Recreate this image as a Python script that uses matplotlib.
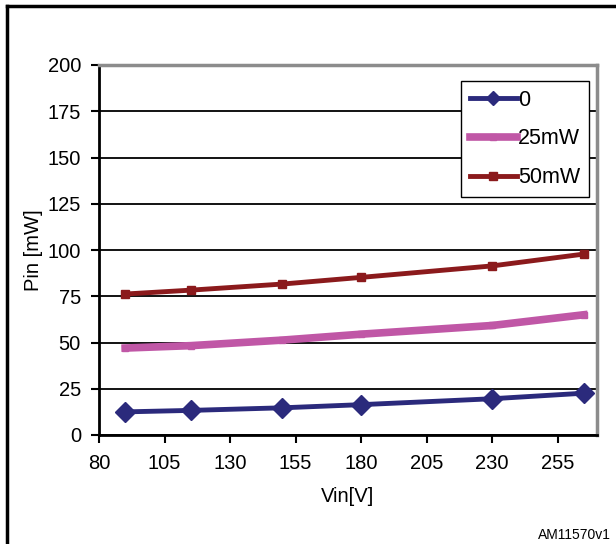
import matplotlib
matplotlib.use("Agg")
import matplotlib.pyplot as plt
from matplotlib.lines import Line2D

plt.rcParams['font.family'] = ['Liberation Sans', 'DejaVu Sans']

# Data
vin = [90, 115, 150, 180, 230, 265]
pin_0 = [12.5, 13.3, 14.7, 16.4, 19.6, 22.6]
pin_25 = [47.0, 48.3, 51.3, 54.5, 59.2, 65.0]
pin_50 = [76.2, 78.3, 81.6, 85.2, 91.4, 97.8]
series_labels = ["0", "25mW", "50mW"]
x_ticks = [80, 105, 130, 155, 180, 205, 230, 255]
y_ticks = [0, 25, 50, 75, 100, 125, 150, 175, 200]

fig = plt.figure(figsize=(6.16, 5.44), dpi=100)
ax = fig.add_axes([99 / 616, 1 - 435 / 544, (597 - 99) / 616, (435 - 65) / 544])

blue = "#2b2a7c"
pink = "#c057a6"
red = "#8b1a1c"
fs = 14.5

ax.plot(vin, pin_50, color=red, lw=3.5, marker="s", ms=6, zorder=3)
ax.plot(vin, pin_25, color=pink, lw=5.5, marker="s", ms=5, zorder=3)
ax.plot(vin, pin_0, color=blue, lw=3.5, marker="D", ms=10, zorder=3)

ax.set_xlim(80, 270)
ax.set_ylim(0, 200)
ax.set_xticks(x_ticks)
ax.set_yticks(y_ticks)
ax.yaxis.grid(True, color="black", lw=1.3)
ax.set_axisbelow(True)
ax.tick_params(labelsize=fs, length=6, width=1.5, direction="out")
ax.tick_params(axis="y", pad=7)
ax.tick_params(axis="x", pad=8)

for s in ["left", "bottom"]:
    ax.spines[s].set_linewidth(2)
    ax.spines[s].set_color("black")
for s in ["top", "right"]:
    ax.spines[s].set_linewidth(2.5)
    ax.spines[s].set_color("#8c8c8c")

ax.set_xlabel("Vin[V]", fontsize=fs, labelpad=10)
ax.set_ylabel("Pin [mW]", fontsize=fs, labelpad=3)

handles = [
    Line2D([], [], color=blue, lw=3.5, marker="D", ms=7),
    Line2D([], [], color=pink, lw=5.5, marker="s", ms=5),
    Line2D([], [], color=red, lw=3.5, marker="s", ms=6),
]
leg = ax.legend(handles, series_labels, loc="upper left",
                bbox_to_anchor=((461 - 99) / 498, (435 - 81) / 370),
                fontsize=15.5, frameon=True, fancybox=False, framealpha=1,
                edgecolor="black", handlelength=2.2, handletextpad=0.05,
                borderpad=0.4, labelspacing=0.83, borderaxespad=0)
leg.get_frame().set_linewidth(1.0)

# outer frame of the figure
fig.add_artist(Line2D([7 / 616, 7 / 616], [0, 1 - 6 / 544], color="black", lw=2.5, transform=fig.transFigure))
fig.add_artist(Line2D([7 / 616, 1], [1 - 6 / 544, 1 - 6 / 544], color="black", lw=2.5, transform=fig.transFigure))

fig.text(611 / 616, 1 - 535 / 544, "AM11570v1", fontsize=10, ha="right", va="center")

fig.savefig("out.png", dpi=100)
